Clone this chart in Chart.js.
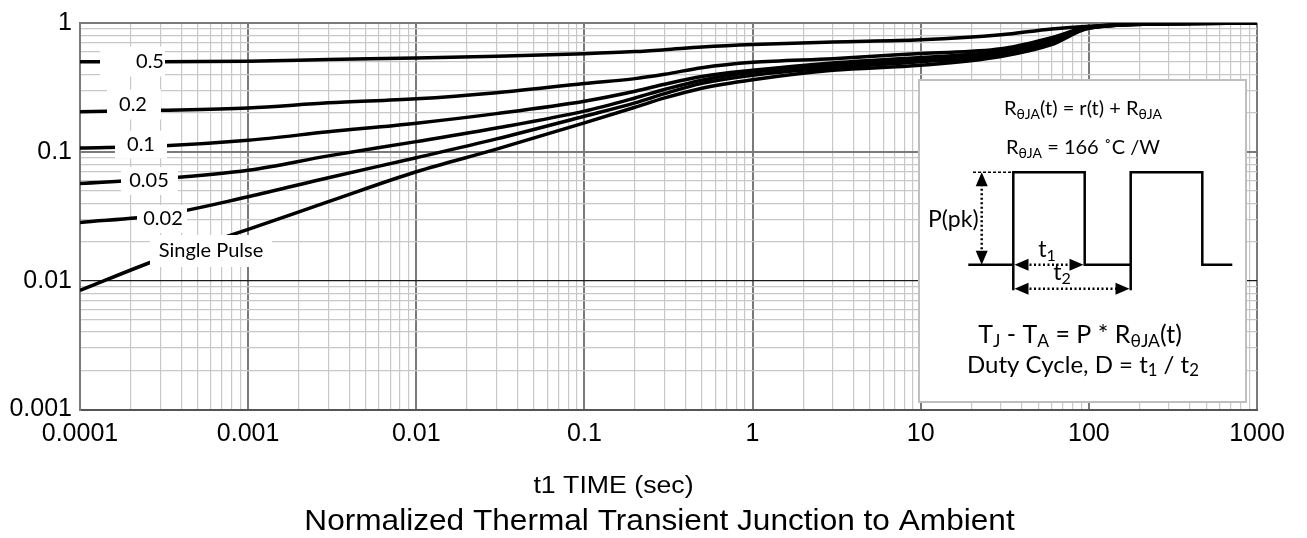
<!DOCTYPE html>
<html>
<head>
<meta charset="utf-8">
<script src="https://cdn.jsdelivr.net/npm/chart.js@4"></script>
<style>
  html, body { margin: 0; padding: 0; background: #fff; }
  .caixa { width: 1307px; height: 538px; position: relative; }
</style>
</head>
<body>
<div class="caixa"><canvas id="grafico"></canvas></div>
<script>
/* ============================================================
   DADOS
============================================================ */
const tempos = [0.0001, 0.0003, 0.001, 0.003, 0.01, 0.03, 0.1, 0.2, 0.3, 0.5, 1, 3, 10, 30, 60, 100, 300, 1000];
const ciclos = ["0.5", "0.2", "0.1", "0.05", "0.02", "Single Pulse"];

const d05 = [0.5, 0.5, 0.505, 0.52, 0.535, 0.552, 0.578, 0.6, 0.62, 0.65, 0.68, 0.712, 0.74, 0.81, 0.9, 0.945, 0.99, 1.0];
const d02 = [0.205, 0.21, 0.219, 0.24, 0.258, 0.288, 0.339, 0.37, 0.4, 0.45, 0.495, 0.529, 0.58, 0.63, 0.77, 0.93, 0.99, 1.0];
const d01 = [0.107, 0.111, 0.123, 0.143, 0.167, 0.198, 0.247, 0.295, 0.335, 0.385, 0.429, 0.49, 0.54, 0.6, 0.74, 0.925, 0.99, 1.0];
const d005 = [0.0568, 0.062, 0.072, 0.093, 0.12, 0.153, 0.207, 0.262, 0.305, 0.36, 0.414, 0.47, 0.52, 0.585, 0.72, 0.92, 0.988, 1.0];
const d002 = [0.0283, 0.0323, 0.0448, 0.063, 0.09, 0.126, 0.189, 0.24, 0.283, 0.34, 0.393, 0.45, 0.5, 0.565, 0.7, 0.915, 0.987, 1.0];
const dUnico = [0.0084, 0.0148, 0.025, 0.041, 0.07, 0.105, 0.168, 0.222, 0.262, 0.312, 0.363, 0.43, 0.47, 0.55, 0.68, 0.91, 0.985, 1.0];

const decadasX = [0.0001, 0.001, 0.01, 0.1, 1, 10, 100, 1000];
const rotulosX = ["0.0001", "0.001", "0.01", "0.1", "1", "10", "100", "1000"];
const decadasY = [0.001, 0.01, 0.1, 1];
const rotulosY = ["0.001", "0.01", "0.1", "1"];

const tituloEixoX = "t1 TIME (sec)";
const tituloGrafico = "Normalized Thermal Transient Junction to Ambient";

const series = [d05, d02, d01, d005, d002, dUnico];

/* ============================================================
   AUXILIARES
============================================================ */
const fonteCalibri = 'Lato, "Open Sans", sans-serif';
const fonteArial = '"Liberation Sans", Arial, sans-serif';

// ticks 1..9 em cada década (linhas de grade)
function ticksLog(decadas) {
  const ticks = [];
  decadas.forEach((d, i) => {
    if (i === decadas.length - 1) {
      ticks.push({ value: d });
      return;
    }
    for (let m = 1; m <= 9; m++) ticks.push({ value: parseFloat((m * d).toPrecision(6)) });
  });
  return ticks;
}

const ehDecada = (v) => Math.abs(Math.log10(v) - Math.round(Math.log10(v))) < 1e-6;

function rotuloDe(v, decadas, rotulos) {
  const i = decadas.findIndex((d) => Math.abs(Math.log10(d) - Math.log10(v)) < 1e-6);
  return i >= 0 ? rotulos[i] : "";
}

// texto com índices (subscritos), centrado em cx
function textoComIndices(ctx, partes, cx, cy, tam, esc = 0.7) {
  let total = 0;
  partes.forEach(([t, sub]) => {
    ctx.font = (sub ? tam * esc : tam) + "px " + fonteCalibri;
    total += ctx.measureText(t).width;
  });
  let x = cx - total / 2;
  ctx.textAlign = "left";
  ctx.textBaseline = "middle";
  partes.forEach(([t, sub]) => {
    ctx.font = (sub ? tam * esc : tam) + "px " + fonteCalibri;
    ctx.fillText(t, x, sub ? cy + tam * 0.25 : cy);
    x += ctx.measureText(t).width;
  });
}

function seta(ctx, x, y, dir) {
  // ponta da seta em (x,y)
  const c = 14, l = 6;
  ctx.beginPath();
  ctx.moveTo(x, y);
  if (dir === "up") { ctx.lineTo(x - l, y + c); ctx.lineTo(x + l, y + c); }
  if (dir === "down") { ctx.lineTo(x - l, y - c); ctx.lineTo(x + l, y - c); }
  if (dir === "left") { ctx.lineTo(x + c, y - l); ctx.lineTo(x + c, y + l); }
  if (dir === "right") { ctx.lineTo(x - c, y - l); ctx.lineTo(x - c, y + l); }
  ctx.closePath();
  ctx.fill();
}

function textoEsticado(ctx, t, cx, base, tam, esticar) {
  ctx.save();
  ctx.translate(cx, base);
  ctx.scale(esticar, 1);
  ctx.font = tam + "px " + fonteArial;
  ctx.textAlign = "center";
  ctx.textBaseline = "alphabetic";
  ctx.fillText(t, 0, 0);
  ctx.restore();
}

/* ============================================================
   PLUGIN: RÓTULOS DAS CURVAS (caixas brancas)
============================================================ */
const caixasRotulos = [
  { x0: 20, x1: 85, cx: 70, cy: 38.5, h: 30 },
  { x0: 27, x1: 81, cx: 53, cy: 81.5, h: 30 },
  { x0: 35, x1: 87, cx: 61, cy: 121.5, h: 28 },
  { x0: 41, x1: 98, cx: 69, cy: 158, h: 28 },
  { x0: 57, x1: 107, cx: 83, cy: 196, h: 28 },
  { x0: 70, x1: 192, cx: 131, cy: 228, h: 32 },
];

const pluginRotulos = {
  id: "rotulos",
  afterDatasetsDraw(chart) {
    const { ctx, chartArea } = chart;
    ctx.save();
    caixasRotulos.forEach((c) => {
      ctx.fillStyle = "#fff";
      ctx.fillRect(chartArea.left + c.x0, chartArea.top + c.cy - c.h / 2, c.x1 - c.x0, c.h);
    });
    ctx.fillStyle = "#000";
    ctx.font = "20px " + fonteCalibri;
    ctx.textAlign = "center";
    ctx.textBaseline = "middle";
    caixasRotulos.forEach((c, i) => {
      ctx.fillText(ciclos[i], chartArea.left + c.cx, chartArea.top + c.cy);
    });
    ctx.restore();
  },
};

/* ============================================================
   PLUGIN: QUADRO COM O DIAGRAMA DE PULSOS
============================================================ */
const pluginQuadro = {
  id: "quadro",
  afterDatasetsDraw(chart) {
    const { ctx, chartArea } = chart;
    const bx = chartArea.right - 338;
    const by = chartArea.top + 57;
    const bw = 327, bh = 322;
    ctx.save();
    ctx.fillStyle = "#fff";
    ctx.fillRect(bx, by, bw, bh);
    ctx.strokeStyle = "#bfbfbf";
    ctx.lineWidth = 2;
    ctx.strokeRect(bx, by, bw, bh);

    ctx.fillStyle = "#000";
    textoComIndices(ctx, [["R", 0], ["θJA", 1], ["(t) = r(t) + R", 0], ["θJA", 1]], bx + 164, by + 29, 20);
    textoComIndices(ctx, [["R", 0], ["θJA", 1], [" = 166 ˚C /W", 0]], bx + 164, by + 68, 20);

    // forma de onda
    const yb = by + 184.7, ya = by + 92.3, yx = by + 210.3;
    ctx.strokeStyle = "#000";
    ctx.lineWidth = 2.5;
    ctx.beginPath();
    ctx.moveTo(bx + 49.3, yb);
    ctx.lineTo(bx + 94.3, yb);
    ctx.moveTo(bx + 94.3, yx);
    ctx.lineTo(bx + 94.3, ya);
    ctx.lineTo(bx + 165.7, ya);
    ctx.lineTo(bx + 165.7, yb);
    ctx.lineTo(bx + 211.7, yb);
    ctx.moveTo(bx + 211.7, yx);
    ctx.lineTo(bx + 211.7, ya);
    ctx.lineTo(bx + 283.3, ya);
    ctx.lineTo(bx + 283.3, yb);
    ctx.lineTo(bx + 313.3, yb);
    ctx.stroke();

    // tracejado superior
    ctx.lineWidth = 1.5;
    ctx.setLineDash([3, 2]);
    ctx.beginPath();
    ctx.moveTo(bx + 54, ya);
    ctx.lineTo(bx + 94, ya);
    ctx.stroke();

    // setas pontilhadas
    ctx.lineWidth = 2.5;
    ctx.setLineDash([2, 2.5]);
    ctx.beginPath();
    ctx.moveTo(bx + 62.7, ya + 12);
    ctx.lineTo(bx + 62.7, yb - 12);
    ctx.moveTo(bx + 106, yb);
    ctx.lineTo(bx + 154, yb);
    ctx.moveTo(bx + 106, by + 208.7);
    ctx.lineTo(bx + 200, by + 208.7);
    ctx.stroke();
    ctx.setLineDash([]);
    seta(ctx, bx + 62.7, ya, "up");
    seta(ctx, bx + 62.7, yb, "down");
    seta(ctx, bx + 95.5, yb, "left");
    seta(ctx, bx + 164.5, yb, "right");
    seta(ctx, bx + 95.5, by + 208.7, "left");
    seta(ctx, bx + 210.5, by + 208.7, "right");

    textoComIndices(ctx, [["P(pk)", 0]], bx + 34.3, by + 140, 23);
    textoComIndices(ctx, [["t", 0], ["1", 1]], bx + 128, by + 170, 23);
    textoComIndices(ctx, [["t", 0], ["2", 1]], bx + 143, by + 193, 23);

    textoComIndices(ctx, [["T", 0], ["J", 1], [" - T", 0], ["A", 1], [" = P * R", 0], ["θJA", 1], ["(t)", 0]], bx + 161, by + 255, 25);
    textoComIndices(ctx, [["Duty Cycle, D = t", 0], ["1", 1], [" / t", 0], ["2", 1]], bx + 164, by + 285, 24);
    ctx.restore();
  },
};

/* ============================================================
   PLUGIN: TÍTULOS (eixo x e gráfico)
============================================================ */
const pluginTitulos = {
  id: "titulos",
  afterDraw(chart) {
    const { ctx, chartArea } = chart;
    ctx.save();
    ctx.fillStyle = "#000";
    textoEsticado(ctx, tituloEixoX, chartArea.left + 533.5, chartArea.bottom + 83.5, 23, 1.16);
    textoEsticado(ctx, tituloGrafico, chartArea.left + 579.5, chartArea.bottom + 120.5, 29, 1.09);
    ctx.restore();
  },
};

/* ============================================================
   GRÁFICO
============================================================ */
const corGrade = (ctx, eixoY) => {
  const v = ctx.tick && ctx.tick.value;
  if (v === undefined) return "#c8c8c8";
  if (!ehDecada(v)) return "#c8c8c8";
  if (eixoY && Math.abs(v - 0.01) < 1e-9) return "#1a1a1a";
  return "#7a7a7a";
};
const larguraGrade = (ctx, eixoY) => {
  const v = ctx.tick && ctx.tick.value;
  if (v === undefined || !ehDecada(v)) return 1.2;
  if (eixoY && Math.abs(v - 0.01) < 1e-9) return 1.2;
  return 2;
};

new Chart(document.getElementById("grafico"), {
  type: "line",
  data: {
    labels: tempos,
    datasets: series.map((s, i) => ({
      label: ciclos[i],
      data: tempos.map((t, j) => ({ x: t, y: s[j] })),
      borderColor: "#000",
      borderWidth: 3.5,
      pointRadius: 0,
      cubicInterpolationMode: "monotone",
      fill: false,
    })),
  },
  options: {
    responsive: true,
    maintainAspectRatio: false,
    animation: false,
    layout: { padding: { top: 21, right: 50, left: 0, bottom: 0 } },
    plugins: {
      legend: { display: false },
      tooltip: { enabled: false },
      title: { display: false },
    },
    scales: {
      x: {
        type: "logarithmic",
        min: 0.0001,
        max: 1000,
        afterBuildTicks: (scale) => { scale.ticks = ticksLog(decadasX); },
        afterFit: (scale) => { scale.height = 128.5; },
        ticks: {
          autoSkip: false,
          maxRotation: 0,
          padding: 10,
          color: "#000",
          font: { family: fonteArial, size: 25 },
          callback: (v) => rotuloDe(v, decadasX, rotulosX),
        },
        grid: {
          drawTicks: false,
          color: (ctx) => corGrade(ctx, false),
          lineWidth: (ctx) => larguraGrade(ctx, false),
        },
        border: { color: "#555", width: 2 },
      },
      y: {
        type: "logarithmic",
        min: 0.001,
        max: 1,
        afterBuildTicks: (scale) => { scale.ticks = ticksLog(decadasY); },
        afterFit: (scale) => { scale.width = 80; },
        ticks: {
          autoSkip: false,
          padding: 8,
          color: "#000",
          font: { family: fonteArial, size: 25 },
          callback: (v) => rotuloDe(v, decadasY, rotulosY),
        },
        grid: {
          drawTicks: false,
          color: (ctx) => corGrade(ctx, true),
          lineWidth: (ctx) => larguraGrade(ctx, true),
        },
        border: { color: "#7a7a7a", width: 2 },
      },
    },
  },
  plugins: [pluginRotulos, pluginQuadro, pluginTitulos],
});
</script>
</body>
</html>
